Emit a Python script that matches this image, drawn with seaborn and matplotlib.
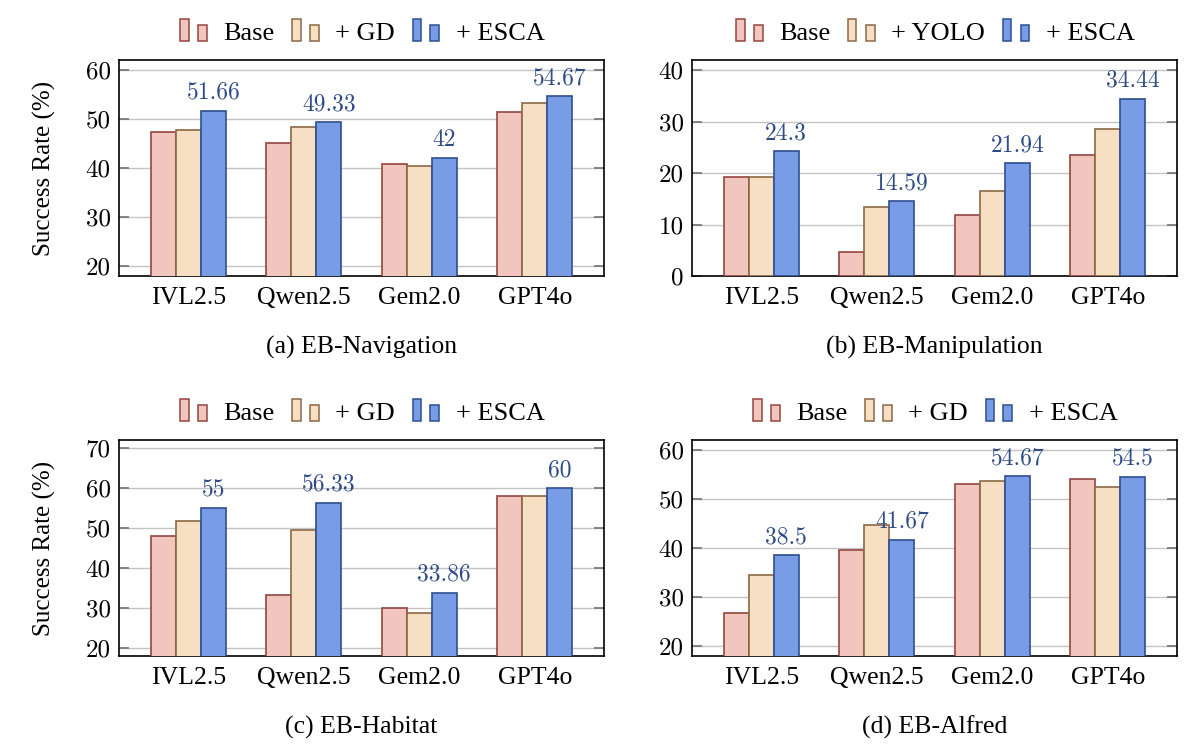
import pandas as pd
import numpy as np

import matplotlib
matplotlib.use("Agg")
import matplotlib.pyplot as plt
import seaborn as sns
from matplotlib.patches import Rectangle
from matplotlib.legend_handler import HandlerBase

sns.set_theme(style="white")
plt.rcParams["font.family"] = ["Liberation Serif", "DejaVu Serif"]
plt.rcParams["text.color"] = "black"
plt.rcParams["axes.labelcolor"] = "black"
plt.rcParams["xtick.color"] = "black"
plt.rcParams["ytick.color"] = "black"

# ==========================================================
# DATA
# ==========================================================

models = ["IVL2.5", "Qwen2.5", "Gem2.0", "GPT4o"]

nav_base = [47.4, 45.0, 40.75, 51.33]
nav_gd = [47.75, 48.33, 40.5, 53.33]
nav_esca = [51.66, 49.33, 42, 54.67]

man_base = [19.3, 4.7, 11.8, 23.5]
man_yolo = [19.3, 13.33, 16.6, 28.5]
man_esca = [24.3, 14.59, 21.94, 34.44]

hab_base = [48, 33.33, 30, 58]
hab_gd = [51.67, 49.5, 28.75, 58]
hab_esca = [55, 56.33, 33.86, 60]

alf_base = [26.67, 39.67, 53, 54]
alf_gd = [34.5, 44.67, 53.67, 52.33]
alf_esca = [38.5, 41.67, 54.67, 54.5]

fills = ["#f0c6bf", "#f6dfc3", "#789ce6"]
edges = ["#94453f", "#8c6846", "#2e4e90"]
label_color = "#2e4a87"

panels = [
    ("(a) EB-Navigation", ["Base", "+ GD", "+ ESCA"], [nav_base, nav_gd, nav_esca], (18, 62), [20, 30, 40, 50, 60]),
    ("(b) EB-Manipulation", ["Base", "+ YOLO", "+ ESCA"], [man_base, man_yolo, man_esca], (0, 42), [0, 10, 20, 30, 40]),
    ("(c) EB-Habitat", ["Base", "+ GD", "+ ESCA"], [hab_base, hab_gd, hab_esca], (18, 72), [20, 30, 40, 50, 60, 70]),
    ("(d) EB-Alfred", ["Base", "+ GD", "+ ESCA"], [alf_base, alf_gd, alf_esca], (18, 62), [20, 30, 40, 50, 60]),
]

# ==========================================================
# LEGEND HANDLE (two small bars like pgfplots)
# ==========================================================


class TwoBarHandler(HandlerBase):
    def create_artists(self, legend, orig_handle, xdescent, ydescent,
                       width, height, fontsize, trans):
        fc = orig_handle.get_facecolor()
        ec = orig_handle.get_edgecolor()
        x0 = -xdescent
        y0 = -ydescent
        r1 = Rectangle((x0 + 0.06 * width, y0 - 0.05 * height), 0.26 * width, 1.15 * height,
                       facecolor=fc, edgecolor=ec, lw=1.1, transform=trans)
        r2 = Rectangle((x0 + 0.62 * width, y0 - 0.05 * height), 0.28 * width, 0.85 * height,
                       facecolor=fc, edgecolor=ec, lw=1.1, transform=trans)
        return [r1, r2]


# ==========================================================
# FIGURE
# ==========================================================

fig = plt.figure(figsize=(12, 7.56), dpi=100)

W, H = 1200, 756
boxes = [(119, 60), (692, 60), (119, 440), (692, 440)]
ax_w, ax_h = 485, 216

for i, (caption, methods, series, ylim, yticks) in enumerate(panels):

    left, top = boxes[i]
    ax = fig.add_axes([left / W, 1 - (top + ax_h) / H, ax_w / W, ax_h / H])

    df = pd.DataFrame({
        "model": models * 3,
        "method": np.repeat(methods, len(models)),
        "value": np.concatenate(series),
    })

    sns.barplot(
        data=df,
        x="model",
        y="value",
        hue="method",
        hue_order=methods,
        order=models,
        palette=dict(zip(methods, fills)),
        width=0.65,
        gap=0,
        saturation=1,
        legend=False,
        ax=ax,
        zorder=3,
    )

    for cont, ec in zip(ax.containers, edges):
        for bar in cont:
            bar.set_edgecolor(ec)
            bar.set_linewidth(1.2)

    esca = series[2]
    ax.bar_label(ax.containers[2], labels=[f"{v:g}" for v in esca], padding=5,
                 color=label_color, fontsize=17, fontfamily="cmr10", zorder=4)

    ax.set_xlim(-0.6, 3.6)
    ax.set_ylim(*ylim)
    ax.set_yticks(yticks)
    ax.set_yticklabels([str(v) for v in yticks], fontfamily="cmr10", fontsize=18)
    ax.set_xlabel("")
    ax.set_ylabel("")

    ax.yaxis.grid(True, color="#c4c4c4", lw=1.0, zorder=0)
    ax.set_axisbelow(True)

    for sp in ax.spines.values():
        sp.set_color("black")
        sp.set_linewidth(1.2)

    ax.tick_params(axis="x", length=0, pad=20, labelsize=18.5)
    for t in ax.get_xticklabels():
        t.set_verticalalignment("baseline")
    ax.tick_params(axis="y", direction="in", length=7, color="#777777",
                   left=True, right=True, pad=6)

    if i % 2 == 0:
        ax.set_ylabel("Success Rate (%)", fontsize=18)
        ax.yaxis.set_label_coords(-0.13, 0.5)

    handles = [Rectangle((0, 0), 1, 1, facecolor=f, edgecolor=e) for f, e in zip(fills, edges)]
    ax.legend(handles, methods, handler_map={Rectangle: TwoBarHandler()},
              loc="center", bbox_to_anchor=(0.5, 1.125), ncol=3, frameon=False,
              fontsize=19, handlelength=1.2, handletextpad=0.5, columnspacing=0.6)

    ax.text(0.5, -0.33, caption, transform=ax.transAxes, ha="center", va="center",
            fontsize=18.5)

fig.savefig("out.png", dpi=100, facecolor="white")
